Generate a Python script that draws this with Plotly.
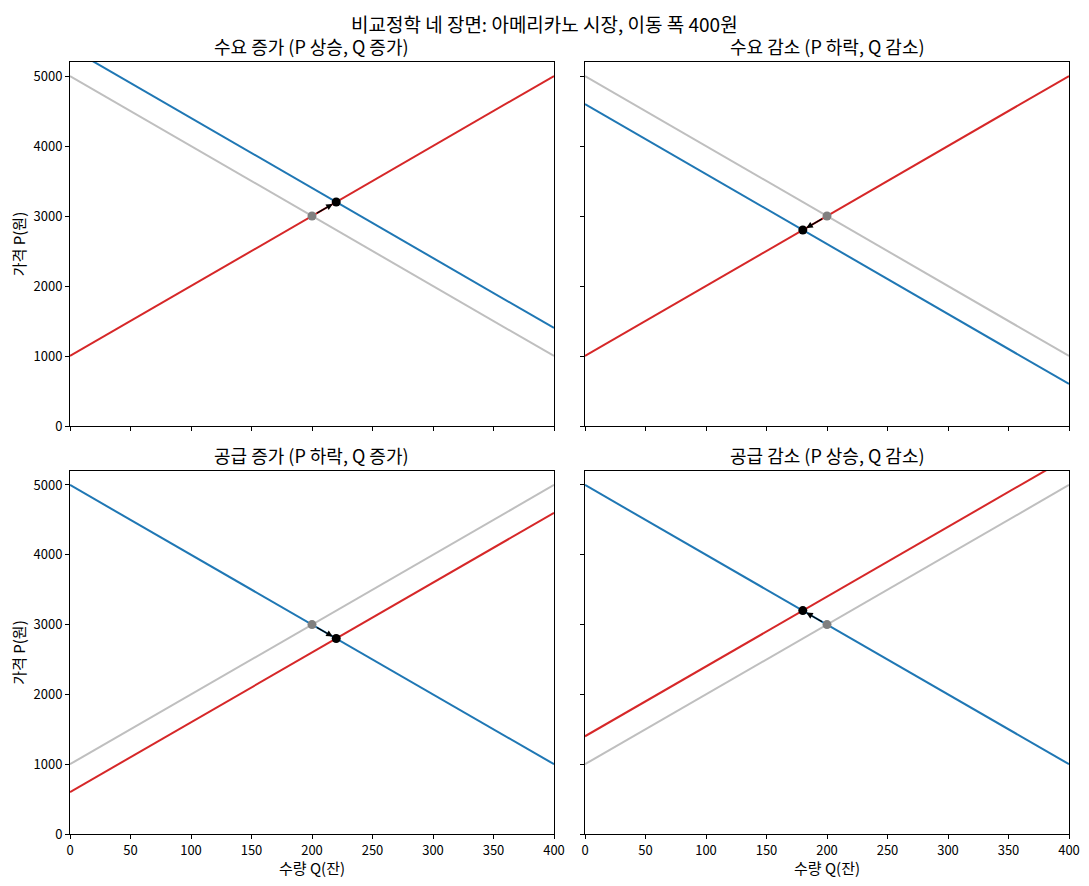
import plotly.graph_objects as go
from plotly.subplots import make_subplots

# Data: four comparative statics scenes, shift size 400 won
titles = ['수요 증가 (P 상승, Q 증가)', '수요 감소 (P 하락, Q 감소)',
          '공급 증가 (P 하락, Q 증가)', '공급 감소 (P 상승, Q 감소)']
q_ends = [0, 400]
base_demand = [5000, 1000]
base_supply = [1000, 5000]
# new curve per scene (demand, supply) at Q=0 and Q=400
new_demand = [[5400, 1400], [4600, 600], [5000, 1000], [5000, 1000]]
new_supply = [[1000, 5000], [1000, 5000], [600, 4600], [1400, 5400]]
shifted = ['demand', 'demand', 'supply', 'supply']
old_eq = (200, 3000)
new_eq_q = [220, 180, 220, 180]
new_eq_p = [3200, 2800, 2800, 3200]

x_ticks = [0, 50, 100, 150, 200, 250, 300, 350, 400]
y_ticks = [0, 1000, 2000, 3000, 4000, 5000]

BLUE = '#1f77b4'
RED = '#d62728'
GREY = '#bfbfbf'
FONT = 'Noto Sans CJK KR, Noto Sans, sans-serif'

# page body has an 8px margin, so the figure is sized to fit inside it
W, H, OFF = 1073, 870, 8

fig = make_subplots(rows=2, cols=2)

for i in range(4):
    r, c = i // 2 + 1, i % 2 + 1
    # base curve (grey) for the shifted one
    base = base_demand if shifted[i] == 'demand' else base_supply
    fig.add_trace(go.Scatter(x=q_ends, y=base, mode='lines',
                             line=dict(color=GREY, width=2), hoverinfo='skip'), row=r, col=c)
    fig.add_trace(go.Scatter(x=q_ends, y=new_demand[i], mode='lines',
                             line=dict(color=BLUE, width=2)), row=r, col=c)
    fig.add_trace(go.Scatter(x=q_ends, y=new_supply[i], mode='lines',
                             line=dict(color=RED, width=2)), row=r, col=c)
    fig.add_trace(go.Scatter(x=[old_eq[0]], y=[old_eq[1]], mode='markers',
                             marker=dict(color='#808080', size=9)), row=r, col=c)
    fig.add_trace(go.Scatter(x=[new_eq_q[i]], y=[new_eq_p[i]], mode='markers',
                             marker=dict(color='black', size=9)), row=r, col=c)
    xr = 'x' if i == 0 else 'x%d' % (i + 1)
    yr = 'y' if i == 0 else 'y%d' % (i + 1)
    fig.add_annotation(x=new_eq_q[i], y=new_eq_p[i], ax=old_eq[0], ay=old_eq[1],
                       xref=xr, yref=yr, axref=xr, ayref=yr, text='',
                       showarrow=True, arrowhead=2, arrowsize=1, arrowwidth=1.3,
                       arrowcolor='black', standoff=4, startstandoff=4)

xdom = [[(70 - OFF) / W, (554 - OFF) / W], [(585 - OFF) / W, (1069 - OFF) / W]]
ydom = [[1 - (426 - OFF) / H, 1 - (62 - OFF) / H], [1 - (834 - OFF) / H, 1 - (471 - OFF) / H]]

for i in range(4):
    r, c = i // 2, i % 2
    key = '' if i == 0 else str(i + 1)
    fig.layout['xaxis' + key].update(
        domain=xdom[c], range=[0, 400], tickvals=x_ticks, showticklabels=(r == 1),
        ticks='outside', ticklen=4, tickcolor='black', showline=True, linecolor='black',
        linewidth=1, mirror=True, showgrid=False, zeroline=False, automargin=False,
        tickfont=dict(size=13),
        title=dict(text='수량 Q(잔)' if r == 1 else '', standoff=3, font=dict(size=15)))
    fig.layout['yaxis' + key].update(
        domain=ydom[r], range=[0, 5200], tickvals=y_ticks, showticklabels=(c == 0),
        ticks='outside', ticklen=4, tickcolor='black', showline=True, linecolor='black',
        linewidth=1, mirror=True, showgrid=False, zeroline=False, automargin=False,
        tickfont=dict(size=13),
        title=dict(text='가격 P(원)' if c == 0 else '', standoff=8, font=dict(size=15)))
    fig.add_annotation(text=titles[i], xref='paper', yref='paper',
                       x=sum(xdom[c]) / 2, y=ydom[r][1], yanchor='bottom',
                       xanchor='center', showarrow=False, yshift=1,
                       font=dict(size=18, color='black'))

fig.add_annotation(text='비교정학 네 장면: 아메리카노 시장, 이동 폭 400원', xref='paper', yref='paper',
                   x=0.5, y=1, yanchor='top', xanchor='center',
                   showarrow=False, font=dict(size=19, color='black'))

fig.update_layout(width=W, height=H, margin=dict(l=0, r=0, t=0, b=0),
                  showlegend=False, plot_bgcolor='white', paper_bgcolor='white',
                  font=dict(family=FONT, size=13, color='black'))

fig.write_html('out.html')
